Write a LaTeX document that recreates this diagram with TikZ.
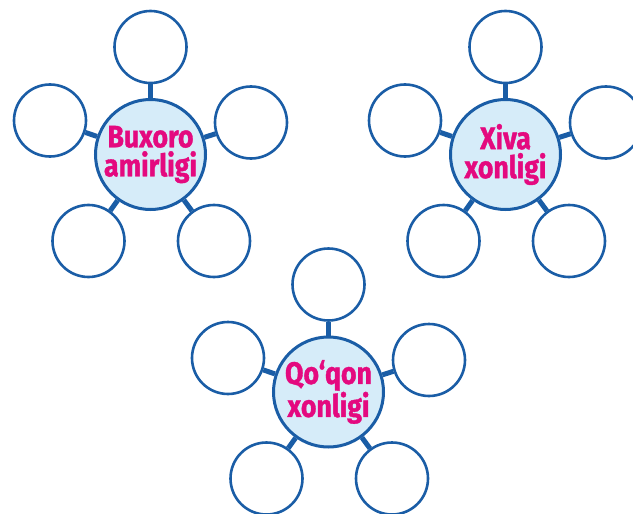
\documentclass[tikz,border=0pt]{standalone}
\usepackage{fontspec}
\newfontfamily\lab[FakeStretch=0.86,FakeBold=1.2]{Fira Sans}
\definecolor{ringblue}{HTML}{1A5DA6}
\definecolor{hubfill}{HTML}{D6ECF9}
\definecolor{labmag}{HTML}{E4097F}
\newcommand\mycluster[4]{%
  \begin{scope}[shift={(#2,#3)}]
    \node[hub] (#1c) at (150.5,154.5) {#4};
    \node[leaf] (#1t) at (150.5,47) {};
    \node[leaf] (#1l) at (50,120.5) {};
    \node[leaf] (#1r) at (251,122.5) {};
    \node[leaf] (#1bl) at (88.5,241) {};
    \node[leaf] (#1br) at (214,241) {};
    \foreach \k in {t,l,r,bl,br} {\path[conn] (#1c) -- (#1\k);}
  \end{scope}}
\begin{document}
\begin{tikzpicture}[x=1pt,y=-1pt,
  leaf/.style={circle,draw=ringblue,line width=2.6pt,fill=white,minimum size=72pt,inner sep=0pt},
  hub/.style={circle,draw=ringblue,line width=3pt,fill=hubfill,minimum size=110pt,inner sep=0pt,align=center,text=labmag,font=\lab\bfseries\fontsize{31}{29}\selectfont},
  conn/.style={draw=ringblue,line width=5pt}]
\useasboundingbox (0,0) rectangle (633,514);
\clip (0,0) rectangle (633,514);
\mycluster{a}{0}{0}{Buxoro\\amirligi}
\mycluster{b}{355}{0}{Xiva\\xonligi}
\mycluster{q}{178}{237.5}{Qo‘qon\\xonligi}
\end{tikzpicture}
\end{document}
